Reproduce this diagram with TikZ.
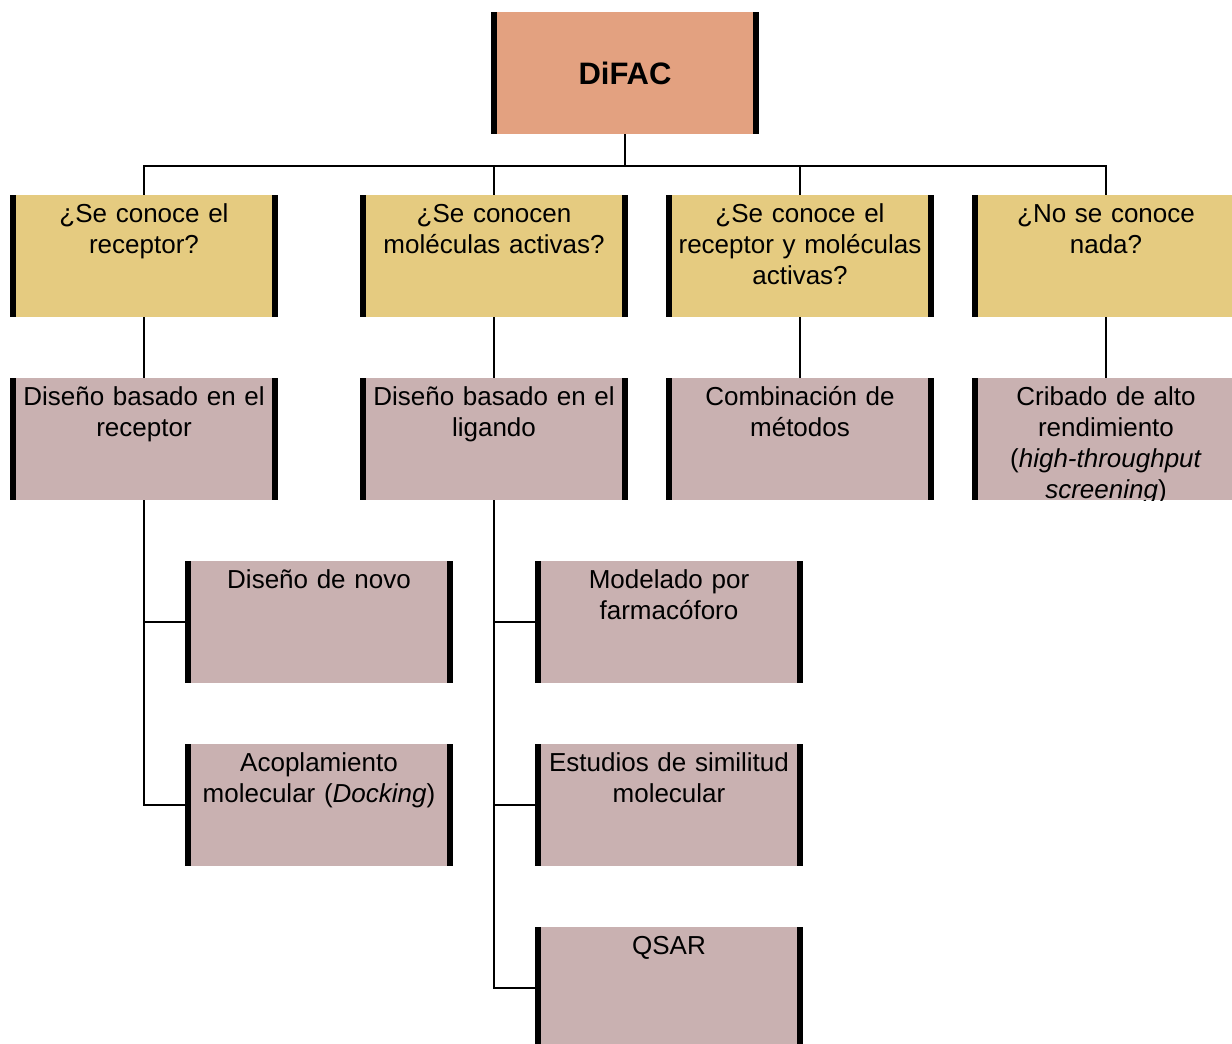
\documentclass[tikz,border=0pt]{standalone}
\usepackage{fontspec}
\setmainfont{Liberation Sans}
\definecolor{rootc}{RGB}{227,161,128}
\definecolor{qc}{RGB}{229,203,128}
\definecolor{mc}{RGB}{201,177,177}
\begin{document}
\begin{tikzpicture}[x=1pt,y=-1pt,
  box/.style={minimum width=268pt, minimum height=122pt, inner sep=0pt, outer sep=0pt, draw=none},
  qbox/.style={box, fill=qc},
  mbox/.style={box, fill=mc},
  barline/.style={line width=6pt, black},
  conn/.style={line width=1.6pt, black},
  txt/.style={font=\fontsize{26}{31}\selectfont, text width=258pt, align=center, anchor=base, inner sep=0pt}]
\clip (0,0) rectangle (1232,1044);
\fill[white] (0,0) rectangle (1232,1044);
% root
\node[box, fill=rootc] (root) at (625,73) {};
\node[font=\fontsize{31}{36}\selectfont\bfseries, inner sep=0pt] (roottxt) at (625,73) {DiFAC};
% level 2
\node[qbox] (q1) at (144,256) {};
\node[qbox] (q2) at (494,256) {};
\node[qbox] (q3) at (800,256) {};
\node[qbox] (q4) at (1106,256) {};
% level 3
\node[mbox] (d1) at (144,439) {};
\node[mbox] (d2) at (494,439) {};
\node[mbox] (d3) at (800,439) {};
\node[mbox] (d4) at (1106,439) {};
% level 4
\node[mbox] (c1) at (319,622) {};
\node[mbox] (c2) at (319,805) {};
\node[mbox] (l1) at (669,622) {};
\node[mbox] (l2) at (669,805) {};
\node[mbox] (l3) at (669,988) {};
% side bars
\foreach \n in {root,q1,q2,q3,q4,d1,d2,d3,d4,c1,c2,l1,l2,l3}{
  \draw[barline] ([xshift=3pt]\n.north west) -- ([xshift=3pt]\n.south west);
  \draw[barline] ([xshift=-3pt]\n.north east) -- ([xshift=-3pt]\n.south east);
}
% texts
\node[txt] (tq1) at ([yshift=-27pt]q1.north) {¿Se conoce el\\receptor?};
\node[txt] (tq2) at ([yshift=-27pt]q2.north) {¿Se conocen\\moléculas activas?};
\node[txt] (tq3) at ([yshift=-27pt]q3.north) {¿Se conoce el\\receptor y moléculas\\activas?};
\node[txt] (tq4) at ([yshift=-27pt]q4.north) {¿No se conoce\\nada?};
\node[txt] (td1) at ([yshift=-27pt]d1.north) {Diseño basado en el\\receptor};
\node[txt] (td2) at ([yshift=-27pt]d2.north) {Diseño basado en el\\ligando};
\node[txt] (td3) at ([yshift=-27pt]d3.north) {Combinación de\\métodos};
\begin{scope}
  \clip (d4.north west) rectangle (d4.south east);
  \node[txt] (td4) at ([yshift=-27pt]d4.north) {Cribado de alto\\rendimiento\\(\textit{high-throughput}\\\textit{screening})};
\end{scope}
\node[txt] (tc1) at ([yshift=-27pt]c1.north) {Diseño de novo};
\node[txt] (tc2) at ([yshift=-27pt]c2.north) {Acoplamiento\\molecular (\textit{Docking})};
\node[txt] (tl1) at ([yshift=-27pt]l1.north) {Modelado por\\farmacóforo};
\node[txt] (tl2) at ([yshift=-27pt]l2.north) {Estudios de similitud\\molecular};
\node[txt] (tl3) at ([yshift=-27pt]l3.north) {QSAR};
% connectors
\coordinate (hub) at (625,166);
\draw[conn] (root.south) -- (hub);
\foreach \n in {q1,q2,q3,q4}{ \draw[conn] (hub) -| (\n.north); }
\draw[conn] (q1.south) -- (d1.north);
\draw[conn] (q2.south) -- (d2.north);
\draw[conn] (q3.south) -- (d3.north);
\draw[conn] (q4.south) -- (d4.north);
\draw[conn] (d1.south) |- (c1.west);
\draw[conn] (d1.south) |- (c2.west);
\draw[conn] (d2.south) |- (l1.west);
\draw[conn] (d2.south) |- (l2.west);
\draw[conn] (d2.south) |- (l3.west);
\end{tikzpicture}
\end{document}
